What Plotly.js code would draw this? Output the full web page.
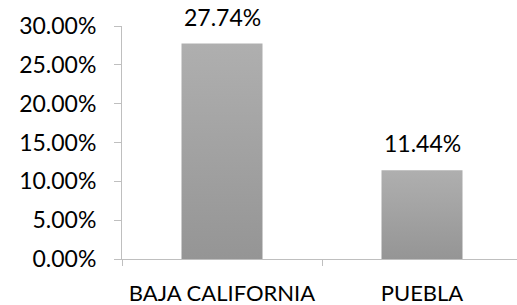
<!DOCTYPE html>
<html>
<head>
<meta charset="utf-8">
<script src="https://cdn.plot.ly/plotly-3.0.1.min.js"></script>
<style>html,body{margin:0;padding:0;background:#fff;}#chart{width:517px;height:305px;}</style>
</head>
<body>
<div id="chart"></div>
<script>
const categories = ["BAJA CALIFORNIA", "PUEBLA"];
const values = [0.2774, 0.1144];
const yTickVals = [0, 0.05, 0.10, 0.15, 0.20, 0.25, 0.30];

const axisColor = '#bfbfbf';
const family = 'Lato, "Open Sans", sans-serif';
const numFont = {family: family, size: 23, color: '#000'};
const catFont = {family: family, size: 22, color: '#000'};

const trace = {
  type: 'bar',
  x: categories,
  y: values,
  width: 0.405,
  marker: {color: '#a2a2a2', line: {width: 0}},
  hoverinfo: 'none'
};

const annotations = categories.map((c, i) => ({
  x: c, y: values[i], xref: 'x', yref: 'y',
  text: (values[i] * 100).toFixed(2) + '%',
  showarrow: false, yanchor: 'bottom', yshift: 11,
  font: numFont
}));

const layout = {
  width: 517, height: 305,
  margin: {l: 122, r: 0, t: 26, b: 46},
  paper_bgcolor: '#fff', plot_bgcolor: '#fff',
  showlegend: false,
  font: numFont,
  xaxis: {
    type: 'category',
    range: [-0.5, 1.475],
    showline: true, linecolor: axisColor, linewidth: 1,
    ticks: 'outside', tickson: 'boundaries', ticklen: 6, tickcolor: axisColor, tickwidth: 1,
    showgrid: false, zeroline: false,
    tickfont: catFont, ticklabelstandoff: 15
  },
  yaxis: {
    range: [0, 0.3],
    tickvals: yTickVals, tickformat: '.2%',
    showline: true, linecolor: axisColor, linewidth: 1,
    ticks: 'outside', ticklen: 7, tickcolor: axisColor, tickwidth: 1,
    showgrid: false, zeroline: false,
    tickfont: numFont, ticklabelstandoff: 13
  },
  annotations: annotations
};

Plotly.newPlot('chart', [trace], layout, {staticPlot: true}).then(gd => {
  const svg = gd.querySelector('svg.main-svg');
  const ns = 'http://www.w3.org/2000/svg';
  let defs = svg.querySelector('defs');
  if (!defs) { defs = document.createElementNS(ns, 'defs'); svg.insertBefore(defs, svg.firstChild); }
  const g = document.createElementNS(ns, 'linearGradient');
  g.setAttribute('id', 'barGrad');
  g.setAttribute('x1', '0'); g.setAttribute('y1', '0');
  g.setAttribute('x2', '0'); g.setAttribute('y2', '1');
  [['0', '#afafaf'], ['1', '#959595']].forEach(([o, c]) => {
    const s = document.createElementNS(ns, 'stop');
    s.setAttribute('offset', o); s.setAttribute('stop-color', c);
    g.appendChild(s);
  });
  defs.appendChild(g);
  gd.querySelectorAll('.barlayer .point path').forEach(p => { p.style.fill = 'url(#barGrad)'; });
});
</script>
</body>
</html>
